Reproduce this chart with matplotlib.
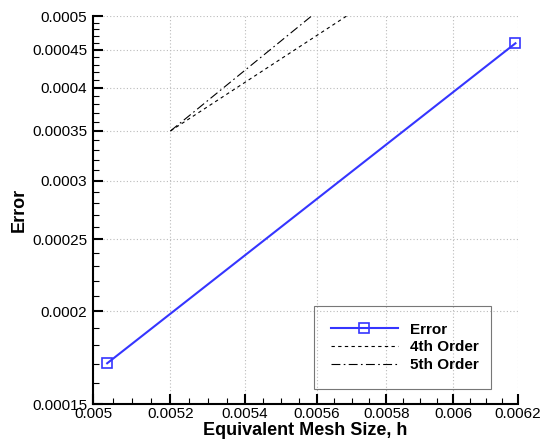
import matplotlib
matplotlib.use("Agg")
import matplotlib.pyplot as plt
from matplotlib.ticker import FixedLocator, NullFormatter

# Measured error vs. mesh size
h_err = [0.005036, 0.006192]
err = [0.0001702, 0.0004594]

# Reference slopes anchored at h = 0.0052
h_4th = [0.0052, 0.005685]
e_4th = [0.00035, 0.0005]
h_5th = [0.0052, 0.005585]
e_5th = [0.00035, 0.0005]

x_major = [0.005, 0.0052, 0.0054, 0.0056, 0.0058, 0.006, 0.0062]
x_labels = ["0.005", "0.0052", "0.0054", "0.0056", "0.0058", "0.006", "0.0062"]
y_major = [0.00015, 0.0002, 0.00025, 0.0003, 0.00035, 0.0004, 0.00045, 0.0005]
y_labels = ["0.00015", "0.0002", "0.00025", "0.0003", "0.00035", "0.0004", "0.00045", "0.0005"]

plt.rcParams["font.family"] = ["Liberation Sans", "DejaVu Sans"]

fig = plt.figure(figsize=(5.43, 4.43), dpi=100)
ax = fig.add_axes([93 / 543, 39 / 443, 425 / 543, 388 / 443])

ax.plot(h_err, err, color="#3535ff", lw=1.5, marker="s", ms=7.5,
        mfc="none", mec="#3535ff", mew=1.2, label="Error", clip_on=False, zorder=5)
ax.plot(h_4th, e_4th, color="black", lw=0.8, ls=(0, (3, 3)), label="4th Order")
ax.plot(h_5th, e_5th, color="black", lw=0.8, ls=(0, (8, 3, 1.5, 3)), label="5th Order")

ax.set_xscale("log")
ax.set_yscale("log")
ax.set_xlim(0.005, 0.0062)
ax.set_ylim(0.00015, 0.0005)

ax.xaxis.set_major_locator(FixedLocator(x_major))
ax.xaxis.set_ticklabels(x_labels)
ax.xaxis.set_minor_locator(FixedLocator([0.005 + 0.00005 * i for i in range(25) if i % 4]))
ax.xaxis.set_minor_formatter(NullFormatter())
ax.yaxis.set_major_locator(FixedLocator(y_major))
ax.yaxis.set_ticklabels(y_labels)
ax.yaxis.set_minor_locator(FixedLocator([0.00015 + 0.00001 * i for i in range(36) if i % 5]))
ax.yaxis.set_minor_formatter(NullFormatter())

ax.tick_params(which="major", direction="in", length=7, width=1.5, labelsize=11, pad=4)
ax.tick_params(which="minor", direction="in", length=4, width=0.8)
ax.tick_params(axis="x", which="major", pad=2)
ax.tick_params(top=False, right=False, which="both")

for side in ["top", "right"]:
    ax.spines[side].set_visible(False)
for side in ["left", "bottom"]:
    ax.spines[side].set_linewidth(1.5)

ax.grid(True, which="major", color="#bbbbbb", ls=(0, (1, 2)), lw=0.8)

ax.set_xlabel("Equivalent Mesh Size, h", fontsize=13, fontweight="bold", labelpad=1)
ax.set_ylabel("Error", fontsize=13, fontweight="bold", labelpad=3)

leg = ax.legend(loc="lower left", bbox_to_anchor=((314 - 93) / 425, (404 - 389) / 388,
                (491 - 314) / 425, (389 - 303) / 388), mode="expand",
                fancybox=False, framealpha=1, handlelength=4.4,
                handletextpad=0.8, prop={"weight": "bold", "size": 11},
                borderpad=1.1, labelspacing=0.25, borderaxespad=0)
frame = leg.get_frame()
frame.set_linewidth(0.8)
frame.set_facecolor("none")
frame.set_edgecolor("#777777")

fig.savefig("out.png", dpi=100)
